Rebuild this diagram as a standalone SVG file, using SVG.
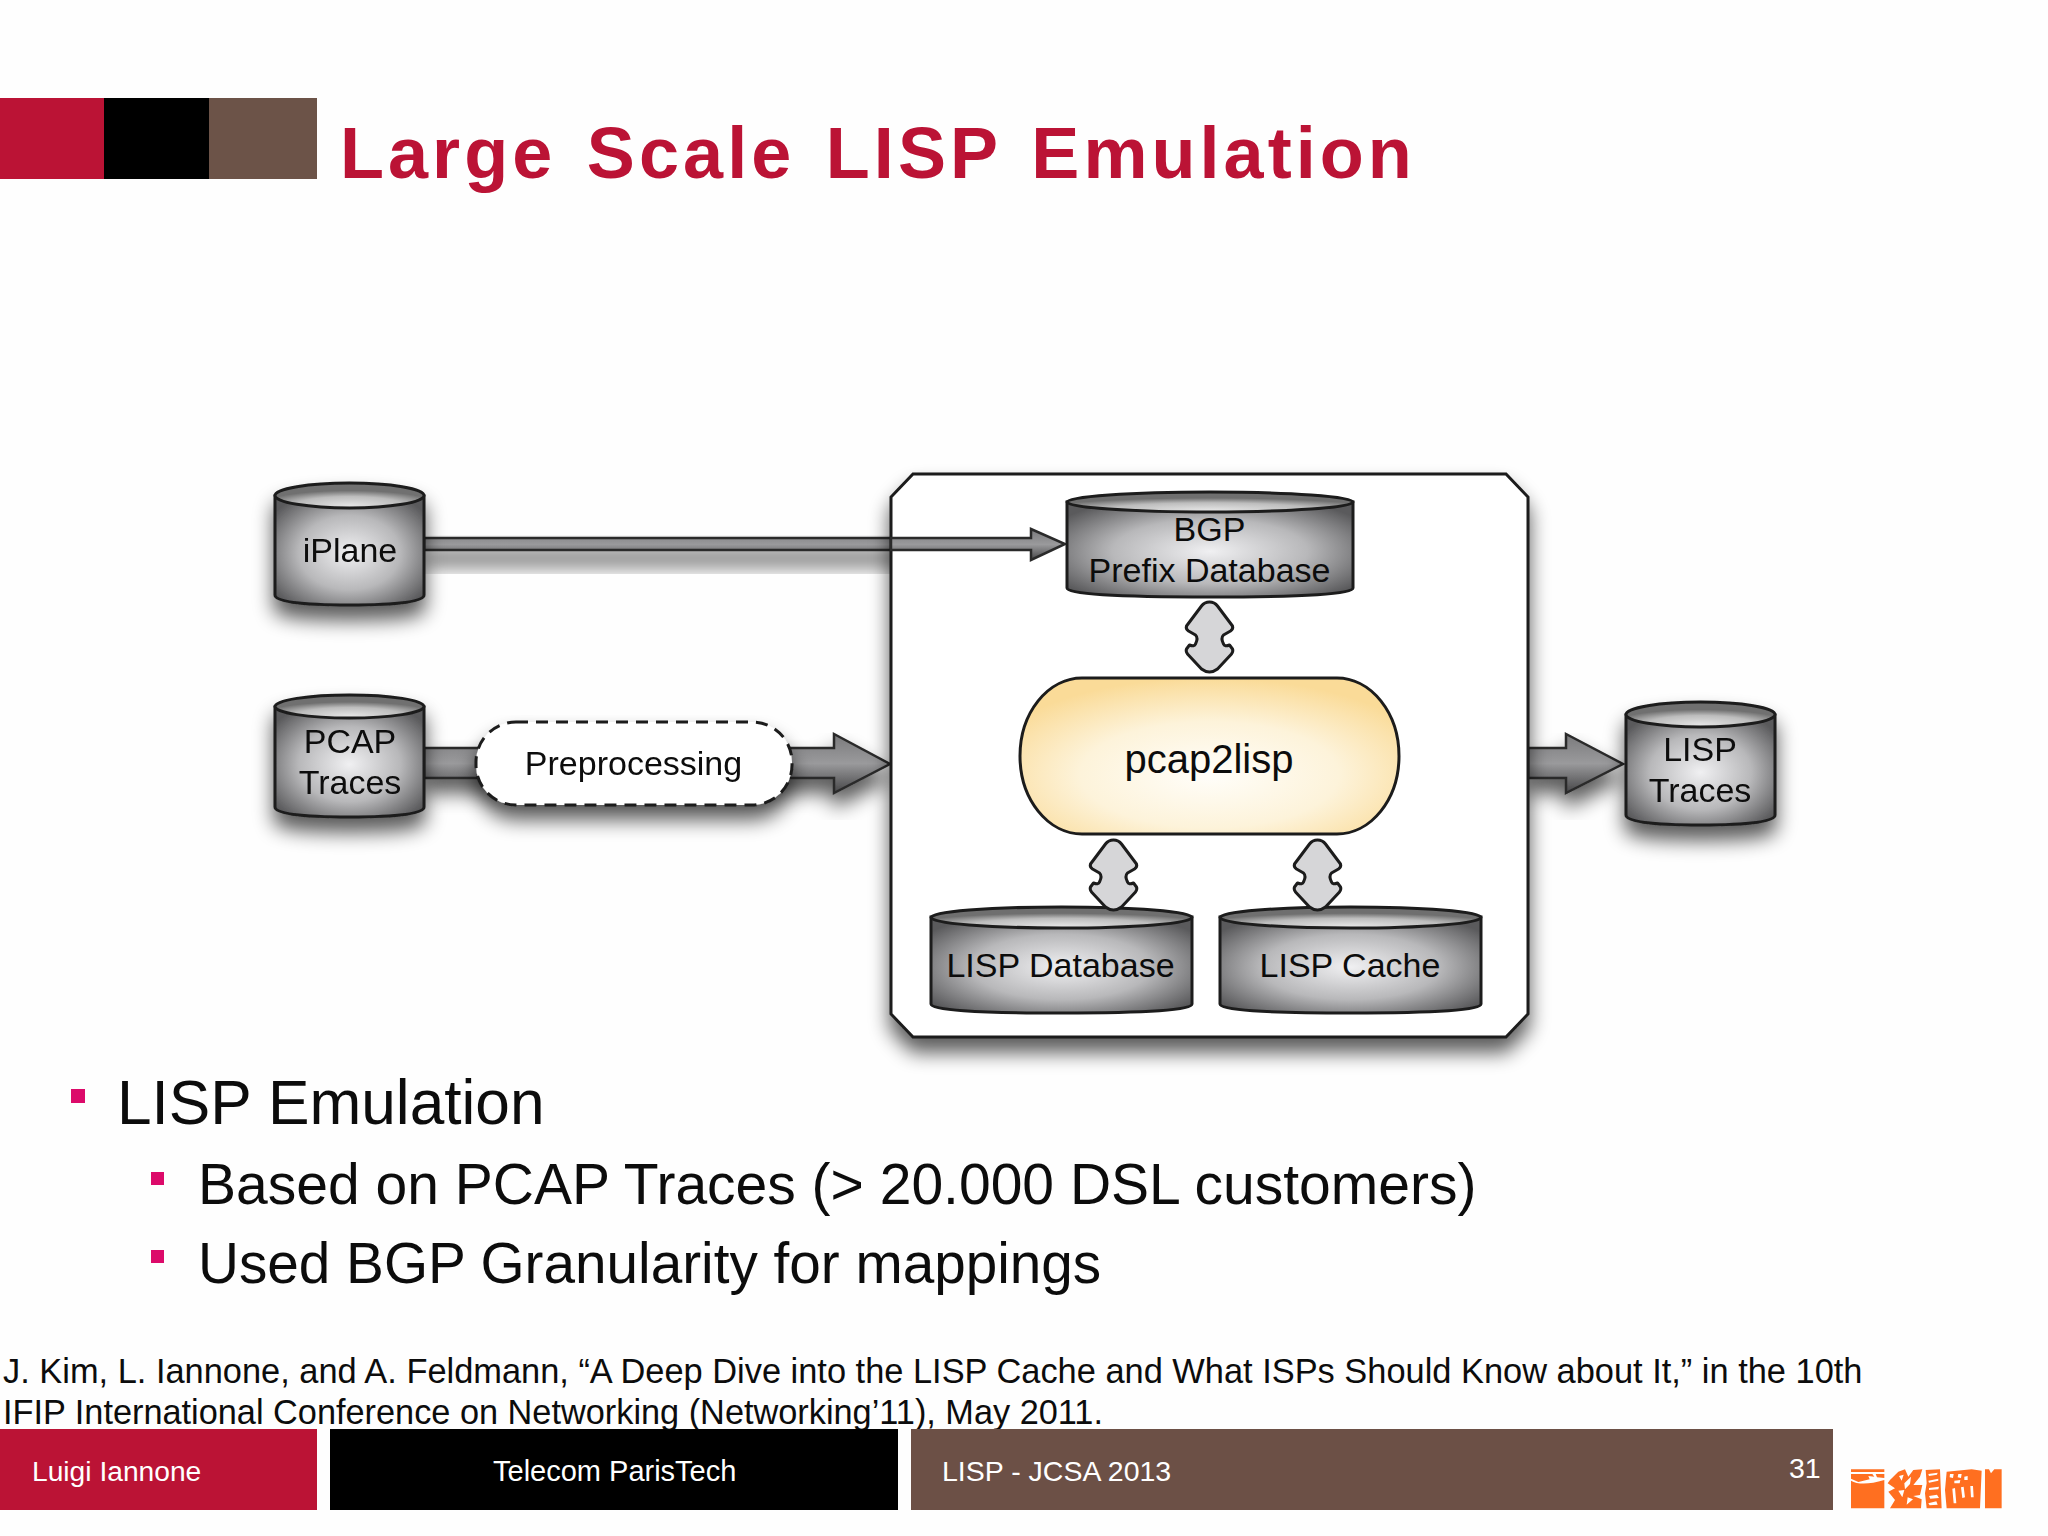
<svg xmlns="http://www.w3.org/2000/svg" width="2048" height="1536" viewBox="0 0 2048 1536">
<style>
text{font-family:"Liberation Sans",Arial,sans-serif;fill:#0c0c0c}
.lbl{font-size:34px;text-anchor:middle}
.body{font-size:57px}
.top{font-size:62.200px}
.ref{font-size:34.400px}
.ft{font-size:28.500px;fill:#fff}
.dbl{fill:#d6d6d8;stroke:#1c1c1c;stroke-width:3;stroke-linejoin:round}
.arr{fill:url(#arrGrad);stroke:#2a2a2a;stroke-width:2.500}
.bul{fill:#dc0a6a}
.cy{fill:url(#cyl);stroke:#1c1c1c;stroke-width:3}
.cp{fill:url(#cap);stroke:#1c1c1c;stroke-width:3}
.logo{fill:#ff6f20;fill-rule:evenodd}
</style>
<defs>
<radialGradient id="cyl" cx="50%" cy="52%" r="62%"><stop offset="0" stop-color="#f0f0f2"/><stop offset="0.55" stop-color="#b8b8ba"/><stop offset="1" stop-color="#5a5a5c"/></radialGradient>
<radialGradient id="cap" cx="50%" cy="90%" r="60%"><stop offset="0" stop-color="#e4e4e4"/><stop offset="0.6" stop-color="#bdbdbd"/><stop offset="1" stop-color="#6f6f6f"/></radialGradient>
<radialGradient id="gold" cx="50%" cy="62%" r="62%"><stop offset="0" stop-color="#fffefa"/><stop offset="0.55" stop-color="#fdf3da"/><stop offset="1" stop-color="#fadb98"/></radialGradient>
<linearGradient id="arrGrad" x1="0" y1="0" x2="0" y2="1"><stop offset="0" stop-color="#7a7a7c"/><stop offset="0.5" stop-color="#9a9a9c"/><stop offset="1" stop-color="#454547"/></linearGradient>
<filter id="sh" x="-25%" y="-25%" width="150%" height="170%"><feGaussianBlur in="SourceAlpha" stdDeviation="10"/><feOffset dy="14"/><feComponentTransfer><feFuncA type="linear" slope="0.65"/></feComponentTransfer><feMerge><feMergeNode/><feMergeNode in="SourceGraphic"/></feMerge></filter>
</defs>
<rect width="2048" height="1536" fill="#fefefe"/>
<g id="title-bar">
<rect x="0" y="98" width="104" height="81" fill="#bb1335"/>
<rect x="104" y="98" width="105" height="81" fill="#000"/>
<rect x="209" y="98" width="108" height="81" fill="#6c5348"/>
</g>
<text id="title" x="340" y="178" font-size="72" font-weight="bold" letter-spacing="4.050" word-spacing="6.500" style="fill:#bb1335">Large Scale LISP Emulation</text>

<g id="connectors">
<g filter="url(#sh)"><path class="arr" d="M424 538H1031V529L1065 544L1031 560V550H424Z"/></g>
<g filter="url(#sh)"><path class="arr" d="M424 748H834V734L890 764L834 793V778H424Z"/></g>
<g filter="url(#sh)"><path class="arr" d="M1528 748H1566V734L1623 764L1566 793V778H1528Z"/></g>
</g>

<g id="container"><path filter="url(#sh)" d="M913 474H1506L1528 497V1014L1506 1037H913L891 1014V497Z" fill="#fff" stroke="#1c1c1c" stroke-width="3"/></g>
<path d="M891 538H1031V529L1065 544L1031 560V550H891Z" class="arr"/>

<g id="iPlane" filter="url(#sh)">
<path class="cy" d="M275 496V595Q275 605 349.500 605Q424 605 424 595V496Z"/>
<ellipse class="cp" cx="349.500" cy="495.500" rx="74.500" ry="12.500"/>
<text class="lbl" x="350" y="562">iPlane</text>
</g>
<g id="pcap" filter="url(#sh)">
<path class="cy" d="M275 707V807Q275 817 349.500 817Q424 817 424 807V707Z"/>
<ellipse class="cp" cx="349.500" cy="706.500" rx="74.500" ry="11.500"/>
<text class="lbl" x="350" y="753">PCAP</text><text class="lbl" x="350" y="794">Traces</text>
</g>
<g id="preprocessing" filter="url(#sh)">
<rect x="476" y="722" width="316" height="83" rx="40" ry="40" fill="#fff" stroke="#1c1c1c" stroke-width="3" stroke-dasharray="12 8"/>
<text class="lbl" x="633.500" y="775">Preprocessing</text>
</g>
<g id="bgp">
<path class="cy" d="M1067 502V588Q1067 597 1210 597Q1353 597 1353 588V502Z"/>
<ellipse class="cp" cx="1210" cy="502" rx="143" ry="10"/>
<text class="lbl" x="1209.500" y="541">BGP</text><text class="lbl" x="1209.500" y="582">Prefix Database</text>
</g>
<g id="pcap2lisp">
<rect x="1020" y="678" width="379" height="156" rx="62" ry="78" fill="url(#gold)" stroke="#1c1c1c" stroke-width="3"/>
<text x="1209" y="773" font-size="40" text-anchor="middle">pcap2lisp</text>
</g>
<g id="lisp-database">
<path class="cy" d="M931 917V1004Q931 1013 1061.500 1013Q1192 1013 1192 1004V917Z"/>
<ellipse class="cp" cx="1061.500" cy="917.500" rx="130.500" ry="10.500"/>
<text class="lbl" x="1060.500" y="977">LISP Database</text>
</g>
<g id="lisp-cache">
<path class="cy" d="M1220 917V1004Q1220 1013 1350.500 1013Q1481 1013 1481 1004V917Z"/>
<ellipse class="cp" cx="1350.500" cy="917.500" rx="130.500" ry="10.500"/>
<text class="lbl" x="1350" y="977">LISP Cache</text>
</g>
<g id="lisp-traces" filter="url(#sh)">
<path class="cy" d="M1626 715V815Q1626 825 1700.500 825Q1775 825 1775 815V715Z"/>
<ellipse class="cp" cx="1700.500" cy="714.500" rx="74.500" ry="12.500"/>
<text class="lbl" x="1700" y="761">LISP</text><text class="lbl" x="1700" y="802">Traces</text>
</g>
<g id="double-arrows">
<path class="dbl" id="da1" transform="translate(1209.500 602)" d="M0 0Q5 0 8 4L23 24Q24 27 21 29L14 33Q11 36 14 42Q15 45 20 43L23 47Q24 49 22 52L8 67Q4 70 0 70Q-4 70 -8 67L-22 52Q-24 49 -23 47L-20 43Q-15 45 -14 42Q-11 36 -14 33L-21 29Q-24 27 -23 24L-8 4Q-5 0 0 0Z"/>
<path class="dbl" id="da2" transform="translate(1113.500 840)" d="M0 0Q5 0 8 4L23 24Q24 27 21 29L14 33Q11 36 14 42Q15 45 20 43L23 47Q24 49 22 52L8 67Q4 70 0 70Q-4 70 -8 67L-22 52Q-24 49 -23 47L-20 43Q-15 45 -14 42Q-11 36 -14 33L-21 29Q-24 27 -23 24L-8 4Q-5 0 0 0Z"/>
<path class="dbl" id="da3" transform="translate(1317.500 840)" d="M0 0Q5 0 8 4L23 24Q24 27 21 29L14 33Q11 36 14 42Q15 45 20 43L23 47Q24 49 22 52L8 67Q4 70 0 70Q-4 70 -8 67L-22 52Q-24 49 -23 47L-20 43Q-15 45 -14 42Q-11 36 -14 33L-21 29Q-24 27 -23 24L-8 4Q-5 0 0 0Z"/>
</g>

<g id="bullets">
<rect class="bul" x="71" y="1089" width="14" height="14"/>
<rect class="bul" x="151" y="1172" width="13" height="13"/>
<rect class="bul" x="151" y="1250" width="13" height="13"/>
<text class="top" x="117" y="1124">LISP Emulation</text>
<text class="body" x="198" y="1204">Based on PCAP Traces (&gt; 20.000 DSL customers)</text>
<text class="body" x="198" y="1283" style="font-size:56.700px">Used BGP Granularity for mappings</text>
</g>
<g id="reference">
<text class="ref" x="3" y="1383">J. Kim, L. Iannone, and A. Feldmann, “A Deep Dive into the LISP Cache and What ISPs Should Know about It,” in the 10th</text>
<text class="ref" x="3" y="1424" style="font-size:34.300px">IFIP International Conference on Networking (Networking’11), May 2011.</text>
</g>
<g id="footer">
<rect x="0" y="1429" width="317" height="81" fill="#bb1335"/>
<rect x="330" y="1429" width="568" height="81" fill="#000"/>
<rect x="911" y="1429" width="922" height="81" fill="#6c5046"/>
<text class="ft" x="32" y="1481" style="font-size:28.200px">Luigi Iannone</text>
<text class="ft" x="493" y="1481" style="font-size:29px">Telecom ParisTech</text>
<text class="ft" x="942" y="1481">LISP - JCSA 2013</text>
<text class="ft" x="1789" y="1478">31</text>
</g>
<g id="logo" transform="translate(1845 1460) scale(0.3333)">
<path class="logo" d="M18 28H118V36H18ZM18 42H82L88 50L70 48L74 58L40 66L18 56ZM18 62Q50 80 118 60V145H18ZM92 42H118V54L96 52Z"/>
<path class="logo" d="M135 60L160 35L180 28L190 50L205 30L232 28L225 50L205 75L232 75L225 105L205 108L230 118L228 145L135 145L150 120L130 95L150 85L128 70ZM162 48L176 44L170 62ZM178 70L198 50L195 72L180 88ZM160 92L178 90L172 112ZM188 112L204 118L185 134Z"/>
<path class="logo" d="M242 30L285 28L290 145L245 145L240 100L245 70ZM250 42L278 38L276 44L252 48ZM250 62L280 56L280 62L252 68ZM252 84L282 80L280 88L252 90ZM252 108L276 104L282 114L256 116ZM250 130L274 124L278 134L254 136Z"/>
<path class="logo" d="M305 35L380 28L410 32L405 145L305 145L300 90ZM315 42L326 42L324 54L314 52ZM340 42L350 42L348 54L338 52ZM358 50L368 48L368 60L358 60ZM328 62L346 60L344 70L328 70ZM322 86L330 84L334 130L326 130ZM348 82L356 80L360 112L352 114ZM376 78L384 78L386 112L378 112Z"/>
<path class="logo" d="M420 28H432L438 40L448 28H470V145H420Z"/>
</g>
</svg>
